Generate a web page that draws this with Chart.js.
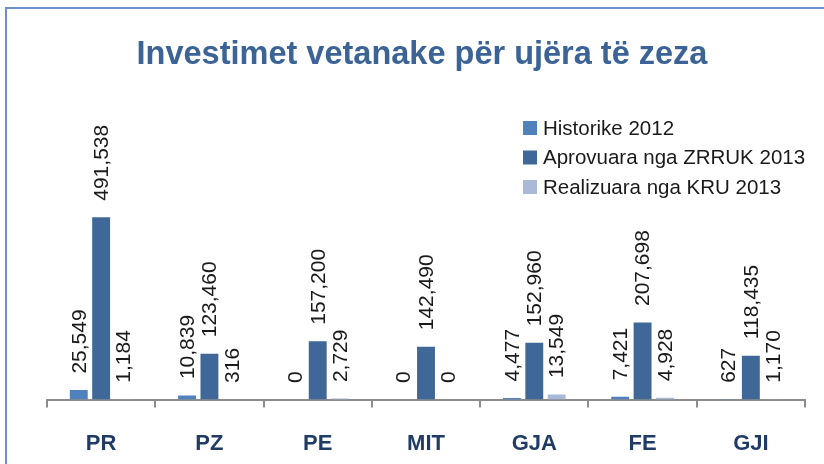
<!DOCTYPE html>
<html>
<head>
<meta charset="utf-8">
<script src="https://cdn.jsdelivr.net/npm/chart.js@4"></script>
<style>
html,body{margin:0;padding:0;background:#fff;}
#wrap{width:824px;height:464px;position:relative;}
</style>
</head>
<body>
<div id="wrap"><canvas id="c" width="824" height="464"></canvas></div>
<script>
const categories = ['PR', 'PZ', 'PE', 'MIT', 'GJA', 'FE', 'GJI'];
const seriesNames = ['Historike 2012', 'Aprovuara nga ZRRUK 2013', 'Realizuara nga KRU 2013'];
const historike2012 = [25549, 10839, 0, 0, 4477, 7421, 627];
const aprovuara2013 = [491538, 123460, 157200, 142490, 152960, 207698, 118435];
const realizuara2013 = [1184, 316, 2729, 0, 13549, 4928, 1170];
const seriesColors = ['#4F81BD', '#3F6899', '#A9B9D8'];
const chartTitle = 'Investimet vetanake për ujëra të zeza';

const framePlugin = {
  id: 'frame',
  beforeDraw(chart) {
    const ctx = chart.ctx;
    ctx.save();
    ctx.fillStyle = '#fff';
    ctx.fillRect(0, 0, chart.width, chart.height);
    ctx.strokeStyle = '#6A92C9';
    ctx.lineWidth = 2;
    ctx.beginPath();
    ctx.moveTo(6, 464);
    ctx.lineTo(6, 8);
    ctx.lineTo(824, 8);
    ctx.stroke();
    // title
    ctx.fillStyle = '#3B6396';
    ctx.font = "bold 32.5px 'Liberation Sans', sans-serif";
    ctx.textAlign = 'center';
    ctx.textBaseline = 'alphabetic';
    ctx.fillText(chartTitle, 422, 64);
    ctx.restore();
  },
  afterDraw(chart) {
    const ctx = chart.ctx;
    ctx.save();
    // legend
    const rows = [128, 157.5, 187];
    ctx.font = "20.5px 'Liberation Sans', sans-serif";
    ctx.textBaseline = 'middle';
    ctx.textAlign = 'left';
    chart.data.datasets.forEach((ds, i) => {
      ctx.fillStyle = ds.backgroundColor;
      ctx.fillRect(523, rows[i] - 7, 14, 14);
      ctx.fillStyle = '#1a1a1a';
      ctx.fillText(ds.label, 543, rows[i] + 1);
    });
    // data labels, rotated
    ctx.font = "21px 'Liberation Sans', sans-serif";
    ctx.fillStyle = '#1a1a1a';
    chart.data.datasets.forEach((ds, i) => {
      const meta = chart.getDatasetMeta(i);
      meta.data.forEach((bar, j) => {
        const txt = ds.data[j].toLocaleString('en-US');
        ctx.save();
        ctx.translate(bar.x, bar.y - 16.5);
        ctx.rotate(-Math.PI / 2);
        ctx.textAlign = 'left';
        ctx.textBaseline = 'middle';
        ctx.fillText(txt, 0, 1);
        ctx.restore();
      });
    });
    ctx.restore();
  }
};

new Chart(document.getElementById('c'), {
  type: 'bar',
  data: {
    labels: categories,
    datasets: [
      { label: seriesNames[0], data: historike2012, backgroundColor: seriesColors[0] },
      { label: seriesNames[1], data: aprovuara2013, backgroundColor: seriesColors[1] },
      { label: seriesNames[2], data: realizuara2013, backgroundColor: seriesColors[2] }
    ]
  },
  options: {
    responsive: false,
    animation: false,
    devicePixelRatio: 1,
    categoryPercentage: 0.62,
    barPercentage: 0.8,
    layout: { padding: { left: 47, right: 19, top: 177, bottom: -16 } },
    plugins: {
      legend: { display: false },
      title: { display: false },
      tooltip: { enabled: false }
    },
    scales: {
      y: { display: false, min: 0, max: 600000 },
      x: {
        offset: true,
        grid: { offset: true, drawOnChartArea: false, drawTicks: true, tickLength: 8, color: '#8C8C8C', lineWidth: 2 },
        border: { display: true, color: '#8C8C8C', width: 2 },
        ticks: { color: '#1F3B66', font: { family: "'Liberation Sans', sans-serif", size: 22, weight: 'bold' }, padding: 23 }
      }
    }
  },
  plugins: [framePlugin]
});
</script>
</body>
</html>
